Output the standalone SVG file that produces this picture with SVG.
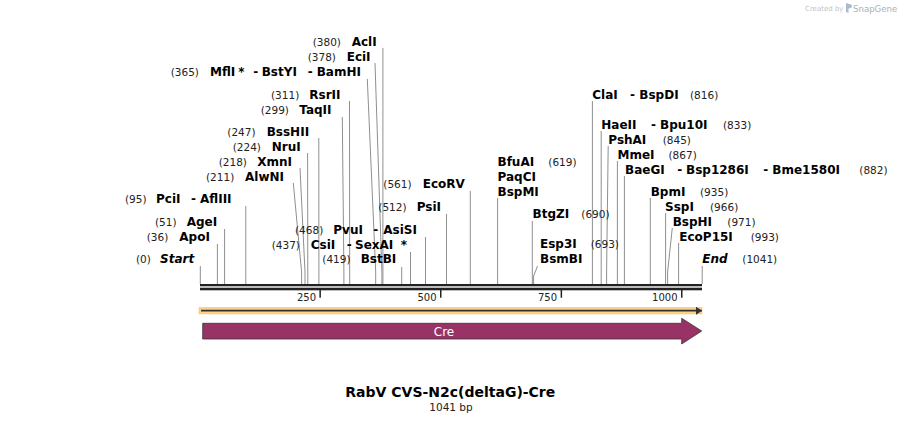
<svg xmlns="http://www.w3.org/2000/svg" width="902" height="423" viewBox="0 0 902 423">
<style>
text{font-family:"DejaVu Sans",Verdana,sans-serif;fill:#000}
.n{font-size:12px;font-weight:bold}
.p{font-size:10.5px;font-weight:normal;fill:#222}
.it{font-style:italic}
.ld{stroke:#8f8f8f;stroke-width:1;fill:none}
.tk{font-size:10px;fill:#222;text-anchor:end}
</style>
<defs>
<marker id="ah" markerWidth="6" markerHeight="8" refX="6" refY="4" orient="auto" markerUnits="userSpaceOnUse">
<path d="M0,0 L6,4 L0,8 Z" fill="#333"/>
</marker>
</defs>
<rect width="902" height="423" fill="#fff"/>
<g id="credit">
<text x="805" y="11" style="font-size:7px;fill:#c4c4c4">Created by</text>
<path d="M846,3 L851,4.5 Q853,6 851,8 L848.5,8.5 L848.5,13 L846,12 Z" fill="#a9bccf"/>
<text x="853" y="11.5" style="font-size:8.6px;fill:#a9b1b9">SnapGene</text>
</g>

<g id="connectors">
<polyline class="ld" points="382.9,48 382.9,284"/>
<polyline class="ld" points="375,63 381.9,272 381.9,284"/>
<polyline class="ld" points="367.3,79 375.7,272 375.7,284"/>
<polyline class="ld" points="349.5,101 349.7,284"/>
<polyline class="ld" points="342.3,117 343.9,272 343.9,284"/>
<polyline class="ld" points="318.8,138 318.9,284"/>
<polyline class="ld" points="307.6,153 307.8,284"/>
<polyline class="ld" points="300,168 305,272 305,284"/>
<polyline class="ld" points="293.3,183 301.6,272 301.6,284"/>
<polyline class="ld" points="245.8,206 245.8,284"/>
<polyline class="ld" points="224.6,229 224.6,284"/>
<polyline class="ld" points="217.4,244 217.4,284"/>
<polyline class="ld" points="200.3,266 200.3,284"/>
<polyline class="ld" points="425.5,237 425.5,284"/>
<polyline class="ld" points="410.5,252 410.5,284"/>
<polyline class="ld" points="401.7,267 401.7,284"/>
<polyline class="ld" points="446.5,214 446.5,284"/>
<polyline class="ld" points="470.3,191 470.3,284"/>
<polyline class="ld" points="497.6,198 497.6,284"/>
<polyline class="ld" points="532.3,221 532.3,284"/>
<polyline class="ld" points="537.5,266 533.6,276 533.6,284"/>
<polyline class="ld" points="592.4,101 592.4,284"/>
<polyline class="ld" points="601.2,131 601.2,284"/>
<polyline class="ld" points="608.2,146 606.6,272 606.6,284"/>
<polyline class="ld" points="617.4,161 617.4,284"/>
<polyline class="ld" points="624.4,176 624.4,284"/>
<polyline class="ld" points="650.3,198 650.3,284"/>
<polyline class="ld" points="665.6,213 665.6,284"/>
<polyline class="ld" points="672.3,228 667.6,272 667.6,284"/>
<polyline class="ld" points="678.6,243 678.6,284"/>
<polyline class="ld" points="702.2,266 702.2,284"/>
</g>

<g id="ruler">
<rect x="200" y="284" width="502" height="2.3" fill="#222"/>
<rect x="200" y="287.7" width="502" height="2.6" fill="#222"/>
<rect x="319.4" y="290" width="1.5" height="7.7" fill="#222"/>
<rect x="440" y="290" width="1.5" height="7.7" fill="#222"/>
<rect x="560.6" y="290" width="1.5" height="7.7" fill="#222"/>
<rect x="681" y="290" width="1.5" height="7.7" fill="#222"/>
<text class="tk" x="316" y="301.3">250</text>
<text class="tk" x="436.5" y="301.3">500</text>
<text class="tk" x="557" y="301.3">750</text>
<text class="tk" x="677.5" y="301.3">1000</text>
</g>

<g id="orf">
<rect x="199" y="307.3" width="503" height="6.7" fill="#fcd287" stroke="#f4c36f" stroke-width="0.5"/>
<line x1="201" y1="310.7" x2="702" y2="310.7" stroke="#333" stroke-width="1.8" marker-end="url(#ah)"/>
</g>

<g id="cre">
<polygon points="202.7,323.3 681.7,323.3 681.7,318.3 701.7,331 681.7,344 681.7,339 202.7,339" fill="#993366" stroke="#333" stroke-width="0.8"/>
<text x="444" y="335.5" style="font-size:12px;fill:#fff;text-anchor:middle">Cre</text>
</g>

<g id="AclI"><text class="p" x="312.7" y="46">(380)</text><text class="n" x="351.7" y="46">AclI</text></g>
<g id="EciI"><text class="p" x="307.7" y="61">(378)</text><text class="n" x="346.7" y="61">EciI</text></g>
<g id="MflI"><text class="p" x="170.7" y="76">(365)</text><text class="n" y="76"><tspan x="210">MflI</tspan><tspan x="238.3">*</tspan><tspan x="253.3">-</tspan><tspan x="261.7">BstYI</tspan><tspan x="307.7">-</tspan><tspan x="316.7">BamHI</tspan></text></g>
<g id="RsrII"><text class="p" x="271" y="99">(311)</text><text class="n" x="309.3" y="99">RsrII</text></g>
<g id="TaqII"><text class="p" x="260.7" y="114">(299)</text><text class="n" x="299.3" y="114">TaqII</text></g>
<g id="BssHII"><text class="p" x="227.3" y="136">(247)</text><text class="n" x="266.7" y="136">BssHII</text></g>
<g id="NruI"><text class="p" x="232.7" y="150.5">(224)</text><text class="n" x="271.7" y="150.5">NruI</text></g>
<g id="XmnI"><text class="p" x="218.7" y="165.5">(218)</text><text class="n" x="257.3" y="165.5">XmnI</text></g>
<g id="AlwNI"><text class="p" x="206" y="180.5">(211)</text><text class="n" x="245" y="180.5">AlwNI</text></g>
<g id="PciI"><text class="p" x="125" y="203.3">(95)</text><text class="n" y="203.3"><tspan x="156">PciI</tspan><tspan x="191">-</tspan><tspan x="200">AflIII</tspan></text></g>
<g id="AgeI"><text class="p" x="155" y="226">(51)</text><text class="n" x="186.7" y="226">AgeI</text></g>
<g id="ApoI"><text class="p" x="146.7" y="241">(36)</text><text class="n" x="179.3" y="241">ApoI</text></g>
<g id="Start"><text class="p" x="136" y="263.3">(0)</text><text class="n it" x="160" y="263.3">Start</text></g>

<g id="PvuI"><text class="p" x="295" y="233.5">(468)</text><text class="n" y="233.5"><tspan x="333.3">PvuI</tspan><tspan x="373.3">-</tspan><tspan x="383.3">AsiSI</tspan></text></g>
<g id="CsiI"><text class="p" x="271.7" y="248.5">(437)</text><text class="n" y="248.5"><tspan x="310.7">CsiI</tspan><tspan x="346.7">-</tspan><tspan x="355">SexAI</tspan><tspan x="400.7">*</tspan></text></g>
<g id="BstBI"><text class="p" x="322.3" y="263.3">(419)</text><text class="n" x="360.7" y="263.3">BstBI</text></g>
<g id="PsiI"><text class="p" x="378.3" y="211">(512)</text><text class="n" x="416.7" y="211">PsiI</text></g>
<g id="EcoRV"><text class="p" x="383.3" y="188.3">(561)</text><text class="n" x="422.7" y="188.3">EcoRV</text></g>
<g id="BfuAI"><text class="n" x="497.5" y="166">BfuAI</text><text class="p" x="548.3" y="166">(619)</text><text class="n" x="497.5" y="181">PaqCI</text><text class="n" x="497.5" y="196">BspMI</text></g>
<g id="BtgZI"><text class="n" x="532.5" y="218.3">BtgZI</text><text class="p" x="581.3" y="218.3">(690)</text></g>
<g id="Esp3I"><text class="n" x="540" y="248.3">Esp3I</text><text class="p" x="590.7" y="248.3">(693)</text><text class="n" x="540" y="263.3">BsmBI</text></g>

<g id="ClaI"><text class="n" y="99"><tspan x="592.3">ClaI</tspan><tspan x="630">-</tspan><tspan x="639.3">BspDI</tspan></text><text class="p" x="690" y="99">(816)</text></g>
<g id="HaeII"><text class="n" y="128.8"><tspan x="601.3">HaeII</tspan><tspan x="651">-</tspan><tspan x="660">Bpu10I</tspan></text><text class="p" x="723" y="128.8">(833)</text></g>
<g id="PshAI"><text class="n" x="608.3" y="144">PshAI</text><text class="p" x="662.7" y="144">(845)</text></g>
<g id="MmeI"><text class="n" x="617.5" y="158.8">MmeI</text><text class="p" x="668.5" y="158.8">(867)</text></g>
<g id="BaeGI"><text class="n" y="173.5"><tspan x="625">BaeGI</tspan><tspan x="677.3">-</tspan><tspan x="686">Bsp1286I</tspan><tspan x="763.3">-</tspan><tspan x="772.3">Bme1580I</tspan></text><text class="p" x="859.3" y="173.5">(882)</text></g>
<g id="BpmI"><text class="n" x="650.7" y="195.7">BpmI</text><text class="p" x="700" y="195.7">(935)</text></g>
<g id="SspI"><text class="n" x="665" y="210.7">SspI</text><text class="p" x="710" y="210.7">(966)</text></g>
<g id="BspHI"><text class="n" x="672.7" y="225.5">BspHI</text><text class="p" x="727.3" y="225.5">(971)</text></g>
<g id="EcoP15I"><text class="n" x="679.3" y="240.5">EcoP15I</text><text class="p" x="750.7" y="240.5">(993)</text></g>
<g id="End"><text class="n it" x="702.3" y="263.3">End</text><text class="p" x="742.3" y="263.3">(1041)</text></g>

<g id="title">
<text x="450.3" y="396.7" style="font-size:14px;font-weight:bold;text-anchor:middle">RabV CVS-N2c(deltaG)-Cre</text>
<text x="451" y="410.5" style="font-size:10.5px;fill:#222;text-anchor:middle">1041 bp</text>
</g>
</svg>
